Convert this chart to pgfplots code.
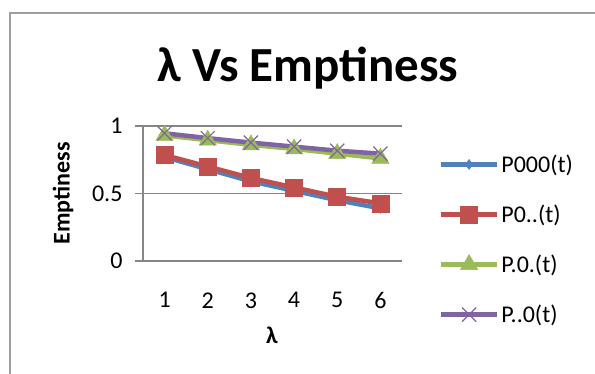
\documentclass[border=0pt]{standalone}
\usepackage{fontspec}
\setmainfont{Carlito}
\usepackage{pgfplots}
\pgfplotsset{compat=1.18}
\definecolor{cblue}{HTML}{4F81BD}
\definecolor{cred}{HTML}{C0504D}
\definecolor{cgreen}{HTML}{9BBB59}
\definecolor{cpurple}{HTML}{8064A2}
\definecolor{cgrid}{HTML}{868686}
\begin{document}
\begin{tikzpicture}[x=1pt,y=1pt]
\useasboundingbox (0,0) rectangle (595,374);
\draw[cgrid!80, line width=1.3pt] (10,-20) -- (10,361) -- (620,361);
\node[font=\fontsize{49}{53}\selectfont\bfseries] at (308,306) {λ Vs Emptiness};
\begin{axis}[
  at={(143pt,113pt)}, anchor=south west,
  scale only axis, width=259pt, height=135pt,
  xmin=0.5, xmax=6.5, ymin=0, ymax=1,
  xtick={1,2,3,4,5,6}, ytick={0,0.5,1},
  yticklabels={0,0.5,1},
  axis x line=bottom, axis y line=left,
  axis line style={cgrid, line width=1.3pt, -},
  x axis line style={draw=none},
  ymajorgrids, grid style={cgrid, line width=1.3pt},
  tick align=outside,
  xtick style={draw=none},
  ytick style={cgrid, line width=1.3pt},
  major tick length=8pt,
  tick label style={font=\fontsize{24}{28}\selectfont},
  /pgf/number format/assume math mode=true,
  yticklabel style={xshift=-9pt},
  xticklabel style={yshift=-20pt},
  xlabel={\textbf{λ}}, ylabel={\textbf{Emptiness}},
  label style={font=\fontsize{24}{28}\selectfont},
  xlabel style={at={(axis description cs:0.498,-0.548)}, anchor=center},
  ylabel style={at={(axis description cs:-0.309,0.5)}, anchor=center},
  clip=false,
  legend cell align=left,
  legend style={at={(1.13,0.159)}, anchor=west, draw=none, fill=none,
    font=\fontsize{24}{28}\selectfont, row sep=27pt},
  legend image code/.code={\draw[mark repeat=2,mark phase=2,#1] plot coordinates {(0pt,0pt) (28pt,0pt) (56pt,0pt)};},
]
\addplot[cblue, line width=4.5pt, mark=diamond*, mark size=5pt, mark options={line width=0.5pt, fill=cblue}] coordinates {(1,0.77) (2,0.68) (3,0.59) (4,0.52) (5,0.45) (6,0.39)};
\addlegendentry{P000(t)}
\addplot[cred, line width=4.5pt, mark=square*, mark size=8.5pt, mark options={line width=0.5pt, fill=cred}] coordinates {(1,0.785) (2,0.70) (3,0.615) (4,0.545) (5,0.476) (6,0.427)};
\addlegendentry{P0..(t)}
\addplot[cgreen, line width=4.5pt, mark=triangle*, mark size=10pt, mark options={line width=0.5pt, fill=cgreen}] coordinates {(1,0.93) (2,0.895) (3,0.86) (4,0.83) (5,0.795) (6,0.76)};
\addlegendentry{P.0.(t)}
\addplot[cpurple, line width=4.5pt, mark=x, mark size=10pt, mark options={line width=1.2pt}] coordinates {(1,0.946) (2,0.91) (3,0.877) (4,0.847) (5,0.817) (6,0.795)};
\addlegendentry{P..0(t)}
\end{axis}
\end{tikzpicture}
\end{document}
